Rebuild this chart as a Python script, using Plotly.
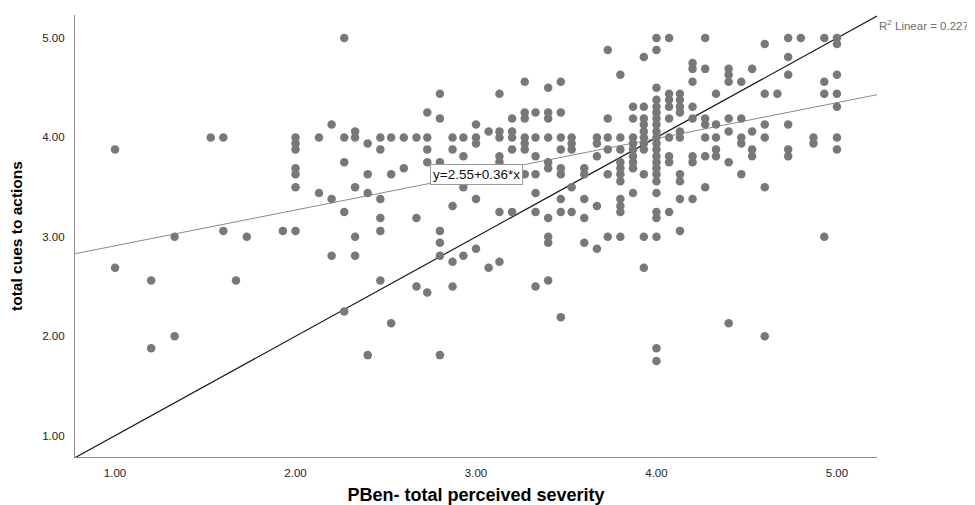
import plotly.graph_objects as go

# PBen- total perceived severity (x), one line per column of points
severity = [
    1.0, 1.0,
    1.2, 1.2,
    1.33, 1.33,
    1.53,
    1.6, 1.6,
    1.67,
    1.73,
    1.93,
    2.0, 2.0, 2.0, 2.0, 2.0, 2.0, 2.0,
    2.13, 2.13,
    2.2, 2.2, 2.2,
    2.27, 2.27, 2.27, 2.27, 2.27,
    2.33, 2.33, 2.33, 2.33, 2.33,
    2.4, 2.4, 2.4, 2.4,
    2.47, 2.47, 2.47, 2.47, 2.47, 2.47,
    2.53, 2.53, 2.53,
    2.6, 2.6,
    2.67, 2.67, 2.67,
    2.73, 2.73, 2.73, 2.73, 2.73,
    2.8, 2.8, 2.8, 2.8, 2.8, 2.8, 2.8,
    2.87, 2.87, 2.87, 2.87, 2.87,
    2.93, 2.93, 2.93, 2.93,
    3.0, 3.0, 3.0, 3.0, 3.0,
    3.07, 3.07,
    3.13, 3.13, 3.13, 3.13, 3.13, 3.13, 3.13,
    3.2, 3.2, 3.2, 3.2, 3.2,
    3.27, 3.27, 3.27, 3.27, 3.27, 3.27, 3.27,
    3.33, 3.33, 3.33, 3.33, 3.33, 3.33, 3.33,
    3.4, 3.4, 3.4, 3.4, 3.4, 3.4, 3.4, 3.4, 3.4, 3.4,
    3.47, 3.47, 3.47, 3.47, 3.47, 3.47, 3.47, 3.47, 3.47,
    3.53, 3.53, 3.53, 3.53, 3.53,
    3.6, 3.6, 3.6, 3.6, 3.6,
    3.67, 3.67, 3.67, 3.67, 3.67,
    3.73, 3.73, 3.73, 3.73, 3.73, 3.73,
    3.8, 3.8, 3.8, 3.8, 3.8, 3.8, 3.8, 3.8, 3.8, 3.8, 3.8,
    3.87, 3.87, 3.87, 3.87, 3.87, 3.87, 3.87, 3.87, 3.87,
    3.93, 3.93, 3.93, 3.93, 3.93, 3.93, 3.93, 3.93, 3.93, 3.93, 3.93,
    4.0, 4.0, 4.0, 4.0, 4.0, 4.0, 4.0, 4.0, 4.0, 4.0, 4.0, 4.0,
    4.0, 4.0, 4.0, 4.0, 4.0, 4.0, 4.0, 4.0, 4.0, 4.0, 4.0,
    4.07, 4.07, 4.07, 4.07, 4.07, 4.07, 4.07, 4.07, 4.07,
    4.13, 4.13, 4.13, 4.13, 4.13, 4.13, 4.13, 4.13, 4.13, 4.13,
    4.2, 4.2, 4.2, 4.2, 4.2, 4.2, 4.2, 4.2,
    4.27, 4.27, 4.27, 4.27, 4.27, 4.27, 4.27,
    4.33, 4.33, 4.33, 4.33, 4.33,
    4.4, 4.4, 4.4, 4.4, 4.4, 4.4, 4.4,
    4.47, 4.47, 4.47, 4.47, 4.47,
    4.53, 4.53, 4.53, 4.53,
    4.6, 4.6, 4.6, 4.6, 4.6, 4.6,
    4.67,
    4.73, 4.73, 4.73, 4.73, 4.73, 4.73,
    4.8,
    4.87, 4.87,
    4.93, 4.93, 4.93, 4.93,
    5.0, 5.0, 5.0, 5.0, 5.0, 5.0, 5.0,
]

# total cues to actions (y), same order as severity
cues = [
    3.88, 2.69,
    2.56, 1.88,
    3.0, 2.0,
    4.0,
    4.0, 3.06,
    2.56,
    3.0,
    3.06,
    4.0, 3.94, 3.88, 3.69, 3.63, 3.5, 3.06,
    4.0, 3.44,
    4.13, 3.38, 2.81,
    5.0, 4.0, 3.75, 3.25, 2.25,
    4.06, 4.0, 3.5, 3.0, 2.81,
    3.94, 3.63, 3.44, 1.81,
    4.0, 3.88, 3.38, 3.19, 3.06, 2.56,
    4.0, 3.63, 2.13,
    4.0, 3.69,
    4.0, 3.19, 2.5,
    4.25, 4.0, 3.88, 3.75, 2.44,
    4.44, 4.19, 3.75, 3.06, 2.94, 2.81, 1.81,
    4.0, 3.88, 3.31, 2.75, 2.5,
    4.0, 3.81, 3.5, 2.81,
    4.13, 4.0, 3.94, 3.38, 2.88,
    4.06, 2.69,
    4.44, 4.06, 4.0, 3.81, 3.75, 3.25, 2.75,
    4.19, 4.06, 4.0, 3.88, 3.25,
    4.56, 4.25, 4.19, 4.0, 3.94, 3.88, 3.63,
    4.25, 4.0, 3.81, 3.63, 3.44, 3.25, 2.5,
    4.5, 4.25, 4.19, 4.0, 3.75, 3.69, 3.19, 3.0, 2.94, 2.56,
    4.56, 4.25, 4.0, 3.88, 3.69, 3.63, 3.38, 3.25, 2.19,
    4.0, 3.94, 3.88, 3.5, 3.25,
    3.69, 3.63, 3.38, 3.19, 2.94,
    4.0, 3.94, 3.81, 3.31, 2.88,
    4.88, 4.19, 4.0, 3.88, 3.63, 3.0,
    4.63, 4.0, 3.88, 3.75, 3.69, 3.63, 3.56, 3.38, 3.31, 3.25, 3.0,
    4.31, 4.19, 4.0, 3.94, 3.88, 3.81, 3.75, 3.69, 3.44,
    4.81, 4.31, 4.19, 4.13, 4.06, 4.0, 3.94, 3.88, 3.63, 3.0, 2.69,
    5.0, 4.88, 4.5, 4.38, 4.31, 4.25, 4.19, 4.13, 4.06, 4.0, 3.94, 3.88,
    3.81, 3.75, 3.69, 3.63, 3.56, 3.44, 3.25, 3.19, 3.0, 1.88, 1.75,
    5.0, 4.44, 4.38, 4.31, 4.19, 4.0, 3.81, 3.75, 3.25,
    4.44, 4.38, 4.31, 4.25, 4.06, 4.0, 3.63, 3.56, 3.38, 3.06,
    4.75, 4.69, 4.56, 4.31, 4.19, 3.81, 3.75, 3.38,
    5.0, 4.69, 4.19, 4.13, 4.0, 3.81, 3.5,
    4.44, 4.13, 4.0, 3.88, 3.81,
    4.69, 4.63, 4.56, 4.19, 4.06, 3.75, 2.13,
    4.56, 4.19, 4.0, 3.94, 3.63,
    4.69, 4.06, 3.88, 3.81,
    4.94, 4.44, 4.13, 4.0, 3.5, 2.0,
    4.44,
    5.0, 4.81, 4.63, 4.13, 3.88, 3.81,
    5.0,
    4.0, 3.94,
    5.0, 4.56, 4.44, 3.0,
    5.0, 4.94, 4.63, 4.44, 4.31, 4.0, 3.88,
]

assert len(severity) == len(cues)

x_range = [0.778, 5.222]
y_range = [0.785, 5.232]
tick_values = [1, 2, 3, 4, 5]
tick_labels = ["1.00", "2.00", "3.00", "4.00", "5.00"]
fit_intercept = 2.55
fit_slope = 0.36
r_squared = 0.227
x_title = "PBen- total perceived severity"
y_title = "total cues to actions"

font_family = "Liberation Sans, Arial, sans-serif"

fig = go.Figure()

# Reference diagonal (y = x)
fig.add_trace(go.Scatter(
    x=x_range, y=x_range, mode="lines",
    line=dict(color="#1a1a1a", width=1.2),
    hoverinfo="skip", showlegend=False,
))

# Linear fit line across the full axis range
fit_x = x_range
fit_y = [fit_intercept + fit_slope * v for v in fit_x]
fig.add_trace(go.Scatter(
    x=fit_x, y=fit_y, mode="lines",
    line=dict(color="#8a8a8a", width=1),
    hoverinfo="skip", showlegend=False,
))

# Scatter points
fig.add_trace(go.Scatter(
    x=severity, y=cues, mode="markers",
    marker=dict(size=8.5, color="#787878", line=dict(width=0)),
    showlegend=False,
))

label_x = 3.0
fig.add_annotation(
    x=label_x, y=fit_intercept + fit_slope * label_x, xref="x", yref="y",
    text=f"y={fit_intercept:.2f}+{fit_slope:.2f}*x", showarrow=False,
    font=dict(family=font_family, size=13.5, color="#111111"),
    bgcolor="white", bordercolor="#9a9a9a", borderwidth=1, borderpad=2,
)

fig.add_annotation(
    x=1, y=1, xref="paper", yref="paper", xanchor="left", yanchor="top",
    yshift=-1,
    text=f"R<sup>2</sup> Linear = {r_squared:.3f}", showarrow=False,
    font=dict(family=font_family, size=11.5, color="#6e6e6e"),
)

axis_common = dict(
    showgrid=False, zeroline=False, showline=True,
    linecolor="#8c8c8c", linewidth=1.3, mirror=False,
    ticks="", tickvals=tick_values, ticktext=tick_labels,
    tickfont=dict(family=font_family, size=11.5, color="#222222"),
)

fig.update_xaxes(
    range=x_range, **axis_common, ticklabelstandoff=5,
    title=dict(text=f"<b>{x_title}</b>", standoff=14,
               font=dict(family=font_family, size=18, color="#000000")),
)
fig.update_yaxes(
    range=y_range, **axis_common, ticklabelstandoff=7,
    title=dict(text=f"<b>{y_title}</b>", standoff=16,
               font=dict(family=font_family, size=15.5, color="#000000")),
)

fig.update_layout(
    width=967, height=497,
    margin=dict(l=67, r=98, t=7, b=48, autoexpand=False),
    plot_bgcolor="white", paper_bgcolor="white",
    font=dict(family=font_family),
    hovermode="closest",
)

fig.write_html("out.html")
